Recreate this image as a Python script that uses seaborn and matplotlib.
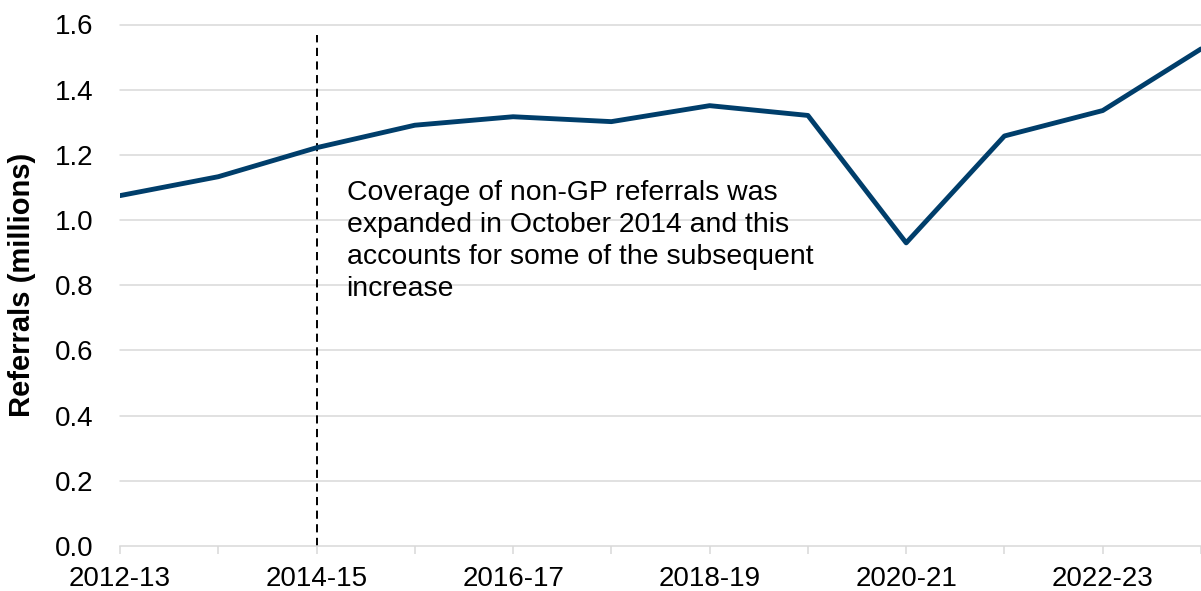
import matplotlib
matplotlib.use("Agg")
import matplotlib.pyplot as plt
import seaborn as sns
import pandas as pd

years = ["2012-13", "2013-14", "2014-15", "2015-16", "2016-17", "2017-18",
         "2018-19", "2019-20", "2020-21", "2021-22", "2022-23", "2023-24"]
referrals = [1.075, 1.133, 1.222, 1.291, 1.317, 1.302,
             1.351, 1.321, 0.930, 1.258, 1.336, 1.525]
shown_labels = ["2012-13", "2014-15", "2016-17", "2018-19", "2020-21", "2022-23"]
yticks = [0.0, 0.2, 0.4, 0.6, 0.8, 1.0, 1.2, 1.4, 1.6]
marker_year = "2014-15"
note = ("Coverage of non-GP referrals was\n"
        "expanded in October 2014 and this\n"
        "accounts for some of the subsequent\n"
        "increase")

sns.set_theme(style="white")
plt.rcParams["font.family"] = ["Liberation Sans", "DejaVu Sans"]

df = pd.DataFrame({"year": years, "referrals": referrals})

fig = plt.figure(figsize=(12.01, 5.91), dpi=100)
ax = fig.add_axes([120 / 1201, 45 / 591, 1081 / 1201, 521.5 / 591])

grid_c = "#D9D9D9"
for v in yticks[1:]:
    ax.axhline(v, color=grid_c, lw=1.1, zorder=0, clip_on=False)

sns.lineplot(data=df, x="year", y="referrals", ax=ax, color="#003E6B",
             lw=3.5, sort=False, zorder=3)

xi = years.index(marker_year)
ax.plot([xi, xi], [0, 1.567], color="black", lw=1.4, dashes=(4.2, 2.8), zorder=2)

ax.text(2.305, 1.122, note, fontsize=20.4, va="top", ha="left", color="black",
        linespacing=1.3)

ax.set_xlim(0, 10.95)
ax.set_ylim(0, 1.6)
ax.set_yticks(yticks)
ax.set_yticklabels([f"{v:.1f}" for v in yticks])
ax.set_xticks(range(len(years)))
ax.set_xticklabels([y if y in shown_labels else "" for y in years])

for s in ["top", "right", "left"]:
    ax.spines[s].set_visible(False)
ax.spines["bottom"].set_color(grid_c)
ax.spines["bottom"].set_linewidth(1.1)

ax.tick_params(axis="y", length=0, pad=19, labelsize=20, labelcolor="black")
ax.tick_params(axis="x", length=6, width=1.1, color=grid_c, pad=8.5,
               labelsize=20, labelcolor="black", bottom=True)

ax.set_xlabel("")
ax.set_ylabel("Referrals (millions)", fontsize=21, fontweight="bold", color="black")
ax.yaxis.set_label_coords(-84 / 1081, 0.5)

fig.savefig("out.png", dpi=100)
